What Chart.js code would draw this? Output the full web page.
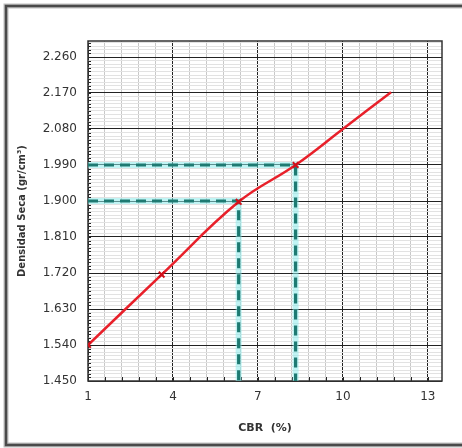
<!DOCTYPE html>
<html><head><meta charset="utf-8">
<script src="https://cdn.jsdelivr.net/npm/chart.js@4/dist/chart.umd.min.js"></script>
<style>html,body{margin:0;padding:0;background:#fff;}#wrap{width:462px;height:448px;}</style>
</head><body><div id="wrap"><canvas id="c" width="462" height="448"></canvas></div>
<script>
// Fitted CBR curve
const curveX = [1, 3.6, 6.32, 8.33, 10, 11.7];
const curveY = [1.54, 1.716, 1.898, 1.99, 2.08, 2.172];
// Test points
const markerX = [1, 3.6, 6.32, 8.33];
const markerY = [1.54, 1.716, 1.898, 1.99];
// Reference (dashed) readings
const refX = [6.32, 8.33];
const refY = [1.90, 1.99];
// Tick labels
const yTickLabels = ['1.450','1.540','1.630','1.720','1.810','1.900','1.990','2.080','2.170','2.260'];
const xTickLabels = ['1','4','7','10','13'];

const X_MIN = 1, X_MAX = 13.5, X_MAJOR = 3, X_SUB = 5;
const Y_MIN = 1.45, Y_MAX = 2.30, Y_MAJOR = 0.09, Y_SUB = 10;

function pts(xs, ys){ return xs.map((x,i)=>({x:x,y:ys[i]})); }
const refLines = refX.map((x,i)=>[{x:X_MIN,y:refY[i]},{x:x,y:refY[i]},{x:x,y:Y_MIN}]);

const datasets = [];
datasets.push({type:'scatter', data:pts(markerX, markerY), showLine:false, pointStyle:'crossRot',
  pointRadius:4, borderColor:'#d0101a', backgroundColor:'#d0101a', borderWidth:2, order:0});
datasets.push({type:'line', data:pts(curveX, curveY), borderColor:'#e8202a', borderWidth:2.5,
  pointRadius:0, tension:0.4, fill:false, order:1});
refLines.forEach(l=>{
  datasets.push({type:'line', data:l, borderColor:'#1e7a72', borderWidth:3.2, borderDash:[10,6],
    pointRadius:0, tension:0, fill:false, order:2, borderCapStyle:'butt'});
  datasets.push({type:'line', data:l, borderColor:'rgba(140,235,235,0.55)', borderWidth:6,
    pointRadius:0, tension:0, fill:false, order:3});
});

function buildTicks(min, max, major, sub){
  const step = major/sub, out = [];
  for(let k=0; ; k++){
    const v = +(min + k*step).toFixed(6);
    if (v > max + 1e-9) break;
    out.push({value:v, isMajor: k % sub === 0, majorIndex: k/sub});
  }
  return out;
}

const framePlugin = {
  id:'frame',
  beforeDraw(chart){
    const c = chart.ctx;
    c.save(); c.fillStyle='#fff'; c.fillRect(0,0,chart.width,chart.height); c.restore();
  },
  beforeDatasetsDraw(chart){
    const c = chart.ctx, a = chart.chartArea;
    const xs = chart.scales.x, ys = chart.scales.y;
    c.save();
    c.strokeStyle = '#222'; c.lineWidth = 1;
    xs.ticks.forEach(t=>{
      const px = Math.round(xs.getPixelForValue(t.value))+0.5;
      c.beginPath(); c.moveTo(px, a.bottom); c.lineTo(px, a.bottom-4); c.stroke();
    });
    ys.ticks.forEach(t=>{
      const py = Math.round(ys.getPixelForValue(t.value))+0.5;
      c.beginPath(); c.moveTo(a.left, py); c.lineTo(a.left+3, py); c.stroke();
    });
    c.strokeStyle = '#333'; c.lineWidth = 1.5;
    c.strokeRect(a.left, a.top, a.right-a.left, a.bottom-a.top);
    c.restore();
  },
  afterDraw(chart){
    const c = chart.ctx;
    c.save();
    c.strokeStyle = 'rgba(0,0,0,0.25)'; c.lineWidth = 5;
    c.strokeRect(6, 6, 470, 439);
    c.strokeStyle = '#4a4a4a'; c.lineWidth = 2.5;
    c.strokeRect(6, 6, 470, 439);
    c.restore();
  }
};

new Chart(document.getElementById('c'), {
  data:{datasets:datasets},
  options:{
    responsive:false, animation:false, devicePixelRatio:1,
    layout:{padding:{left:10, top:41, right:20, bottom:10}},
    plugins:{legend:{display:false}, tooltip:{enabled:false}},
    scales:{
      x:{type:'linear', min:X_MIN, max:X_MAX,
        afterBuildTicks(s){ s.ticks = buildTicks(X_MIN, X_MAX, X_MAJOR, X_SUB); },
        afterFit(s){ s.height = 57; },
        ticks:{autoSkip:false, maxRotation:0, minRotation:0, padding:9, color:'#333',
          font:{family:'DejaVu Sans', size:12},
          callback(v, i, t){ return t[i].isMajor ? xTickLabels[t[i].majorIndex] : ''; }},
        grid:{drawTicks:false, color(ctx){ return ctx.tick && ctx.tick.isMajor ? '#222' : '#c8c8c8'; }, lineWidth:1},
        border:{display:false},
        title:{display:true, text:'CBR  (%)', color:'#333', font:{family:'DejaVu Sans', size:11, weight:'bold'}, padding:{top:0,bottom:3}}
      },
      y:{type:'linear', min:Y_MIN, max:Y_MAX,
        afterBuildTicks(s){ s.ticks = buildTicks(Y_MIN, Y_MAX, Y_MAJOR, Y_SUB); },
        afterFit(s){ s.width = 78; },
        ticks:{autoSkip:false, padding:11, color:'#333', font:{family:'DejaVu Sans', size:12},
          callback(v, i, t){ return t[i].isMajor ? yTickLabels[t[i].majorIndex] : ''; }},
        grid:{drawTicks:false, color(ctx){ return ctx.tick && ctx.tick.isMajor ? '#222' : '#e2e2e2'; }, lineWidth:1},
        border:{display:false},
        title:{display:true, text:'Densidad Seca (gr/cm³)', color:'#333', font:{family:'DejaVu Sans', size:10, weight:'bold'}, padding:{top:6,bottom:0}}
      }
    }
  },
  plugins:[framePlugin]
});
</script></body></html>
